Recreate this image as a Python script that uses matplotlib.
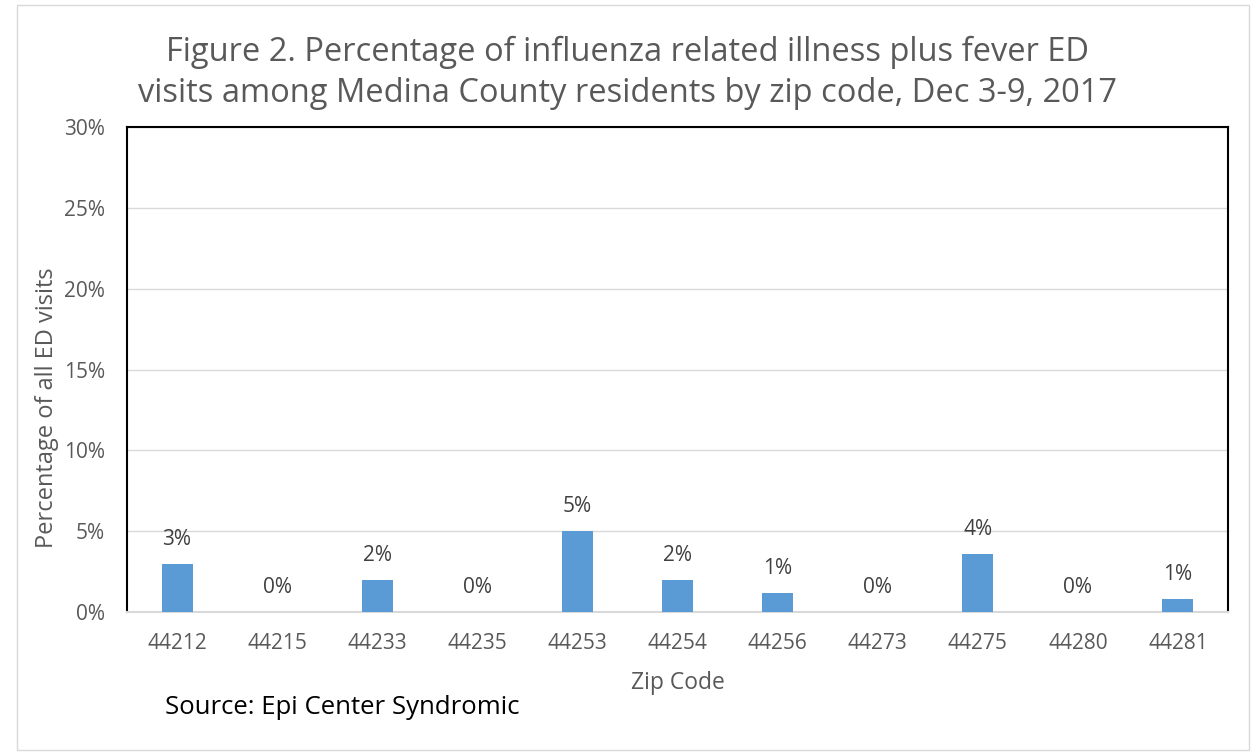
import matplotlib
matplotlib.use("Agg")
import matplotlib.pyplot as plt
from matplotlib.patches import Rectangle
from matplotlib.ticker import MultipleLocator, FuncFormatter

zip_codes = ["44212", "44215", "44233", "44235", "44253", "44254", "44256", "44273", "44275", "44280", "44281"]
values = [3.0, 0.0, 2.0, 0.0, 5.0, 2.0, 1.2, 0.0, 3.6, 0.0, 0.8]

plt.rcParams['font.family'] = ['Open Sans', 'DejaVu Sans']
gray = '#595959'

fig = plt.figure(figsize=(12.52, 7.53), dpi=100)
fig.patches.append(Rectangle((17/1252, 3/753), 1232/1252, 745/753, transform=fig.transFigure,
                             fill=False, edgecolor='#d9d9d9', linewidth=1))
ax = fig.add_axes([127/1252, 1 - 612/753, (1228-127)/1252, (612-127)/753])

x = list(range(len(zip_codes)))
ax.bar(x, values, width=0.31, color='#5b9bd5', zorder=3)
for xi, v in zip(x, values):
    ax.annotate(f"{v:.0f}%", (xi, v), xytext=(0, 10), textcoords='offset points',
                ha='center', va='bottom', fontsize=15, color='#404040')

ax.set_xlim(-0.5, len(zip_codes) - 0.5)
ax.set_ylim(0, 30)
ax.yaxis.set_major_locator(MultipleLocator(5))
ax.yaxis.set_major_formatter(FuncFormatter(lambda v, p: f"{v:.0f}%"))
ax.set_xticks(x)
ax.set_xticklabels(zip_codes)
ax.tick_params(axis='both', length=0, labelsize=15, colors=gray)
ax.tick_params(axis='x', pad=15)
ax.tick_params(axis='y', pad=16)
ax.grid(axis='y', color='#d9d9d9', linewidth=1, zorder=0)
for s in ['left', 'top', 'right']:
    ax.spines[s].set_color('black')
    ax.spines[s].set_linewidth(1.5)
ax.spines['bottom'].set_color('#d9d9d9')
ax.spines['bottom'].set_linewidth(1.5)

fig.text(627/1252, 1 - 73/753, "Figure 2. Percentage of influenza related illness plus fever ED\nvisits among Medina County residents by zip code, Dec 3-9, 2017",
         ha='center', va='center', fontsize=23.5, color=gray, linespacing=1.3)
fig.text(47/1252, 1 - 408/753, "Percentage of all ED visits", rotation=90, ha='center', va='center',
         fontsize=17, color=gray)
fig.text(678/1252, 1 - 683/753, "Zip Code", ha='center', va='center', fontsize=16.5, color=gray)
fig.text(165/1252, 1 - 707/753, "Source: Epi Center Syndromic", ha='left', va='center', fontsize=18.5, color='black')

fig.savefig("out.png", dpi=100)
